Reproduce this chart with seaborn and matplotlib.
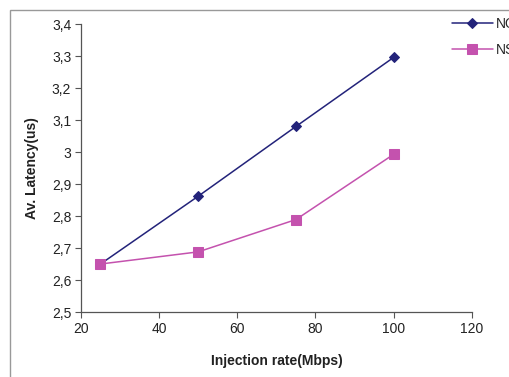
import matplotlib
matplotlib.use("Agg")
import matplotlib.pyplot as plt
import seaborn as sns
import pandas as pd
from matplotlib.ticker import FuncFormatter, MultipleLocator
from matplotlib.patches import Rectangle

injection_rate = [25, 50, 75, 100]
noc_latency = [2.65, 2.862, 3.080, 3.296]
ns_latency = [2.65, 2.688, 2.789, 2.993]
series_names = ["NOC", "NSC"]

df = pd.DataFrame({
    "rate": injection_rate * 2,
    "latency": noc_latency + ns_latency,
    "series": [series_names[0]] * 4 + [series_names[1]] * 4,
})

sns.set_theme(style="white")
plt.rcParams['font.family'] = ['Liberation Sans', 'DejaVu Sans']

fig = plt.figure(figsize=(5.09, 3.77), dpi=100)
ax = fig.add_axes([0.159, 0.1724, 0.768, 0.7636])

palette = {series_names[0]: "#23237a", series_names[1]: "#c452ae"}
markers = {series_names[0]: "D", series_names[1]: "s"}
sizes = {series_names[0]: 5, series_names[1]: 6.5}
for name in series_names:
    sub = df[df["series"] == name]
    sns.lineplot(data=sub, x="rate", y="latency", ax=ax, color=palette[name],
                 marker=markers[name], markersize=sizes[name], markeredgecolor=palette[name],
                 linewidth=1.1, label=name, clip_on=False)

ax.set_xlim(20, 120)
ax.set_ylim(2.5, 3.4)
ax.xaxis.set_major_locator(MultipleLocator(20))
ax.yaxis.set_major_locator(MultipleLocator(0.1))

def fmt(v, pos):
    s = f"{v:.1f}"
    if s.endswith(".0"):
        s = s[:-2]
    return s.replace(".", ",")

ax.yaxis.set_major_formatter(FuncFormatter(fmt))
ax.xaxis.set_major_formatter(FuncFormatter(lambda v, p: f"{v:.0f}"))

for s in ["top", "right"]:
    ax.spines[s].set_visible(False)
for s in ["left", "bottom"]:
    ax.spines[s].set_color("#555555")
    ax.spines[s].set_linewidth(0.9)

ax.tick_params(axis="both", which="major", direction="out", length=4, width=0.8,
               color="#555555", labelsize=10, labelcolor="#222222", pad=3,
               left=True, bottom=True)

ax.set_xlabel("Injection rate(Mbps)", fontsize=10, fontweight="bold", labelpad=13, color="#222222")
ax.set_ylabel("Av. Latency(us)", fontsize=10, fontweight="bold", labelpad=9, color="#222222")

leg = ax.legend(loc="upper left", bbox_to_anchor=(0.950, 1.025), frameon=False,
                fontsize=10, handlelength=2.9, handletextpad=0.25, labelspacing=0.85,
                borderaxespad=0, borderpad=0)

fig.patches.append(Rectangle((10 / 509, -0.1), 1.2, 1 - 10 / 377 + 0.1, transform=fig.transFigure,
                             fill=False, edgecolor="#999999", linewidth=1.0))

fig.savefig("out.png", dpi=100)
